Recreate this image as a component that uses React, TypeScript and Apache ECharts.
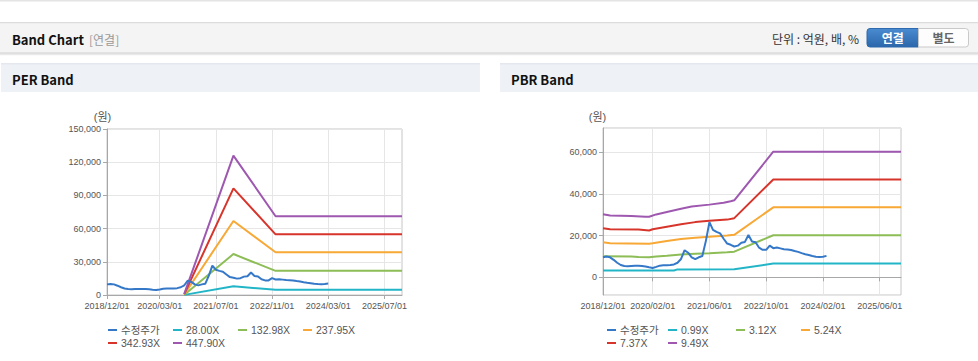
import React, { useEffect, useRef } from "react";
import * as echarts from "echarts";

const MONTHS = [
  "2018/12/01",
  "2019/01/01", "2019/02/01", "2019/03/01", "2019/04/01", "2019/05/01", "2019/06/01",
  "2019/07/01", "2019/08/01", "2019/09/01", "2019/10/01", "2019/11/01", "2019/12/01",
  "2020/01/01", "2020/02/01", "2020/03/01", "2020/04/01", "2020/05/01", "2020/06/01",
  "2020/07/01", "2020/08/01", "2020/09/01", "2020/10/01", "2020/11/01", "2020/12/01",
  "2021/01/01", "2021/02/01", "2021/03/01", "2021/04/01", "2021/05/01", "2021/06/01",
  "2021/07/01", "2021/08/01", "2021/09/01", "2021/10/01", "2021/11/01", "2021/12/01",
  "2022/01/01", "2022/02/01", "2022/03/01", "2022/04/01", "2022/05/01", "2022/06/01",
  "2022/07/01", "2022/08/01", "2022/09/01", "2022/10/01", "2022/11/01", "2022/12/01",
  "2023/01/01", "2023/02/01", "2023/03/01", "2023/04/01", "2023/05/01", "2023/06/01",
  "2023/07/01", "2023/08/01", "2023/09/01", "2023/10/01", "2023/11/01", "2023/12/01",
  "2024/01/01", "2024/02/01", "2024/03/01", "2024/04/01", "2024/05/01", "2024/06/01",
  "2024/07/01", "2024/08/01", "2024/09/01", "2024/10/01", "2024/11/01", "2024/12/01",
  "2025/01/01", "2025/02/01", "2025/03/01", "2025/04/01", "2025/05/01", "2025/06/01",
  "2025/07/01", "2025/08/01", "2025/09/01", "2025/10/01", "2025/11/01", "2025/12/01",
];

const PER_TICKS = ["2018/12/01", "2020/03/01", "2021/07/01", "2022/11/01", "2024/03/01", "2025/07/01"];
const PBR_TICKS = ["2018/12/01", "2020/02/01", "2021/06/01", "2022/10/01", "2024/02/01", "2025/06/01"];

// 수정주가 (monthly, 2018/12 .. 2024/03)
const PRICE = [
  9600, 10000, 9600, 8400, 7000, 5900, 5400, 5300, 5400, 5500, 5500, 5400, 5200, 4800, 4500, 5000,
  5600, 5800, 5800, 5900, 6200, 7000, 8800, 13000, 11800, 9600, 8700, 9600, 10200, 17500, 26500, 22800,
  21800, 21100, 18500, 16200, 15600, 14800, 15200, 16600, 17000, 20300, 17200, 16800, 14200, 13200, 13200, 15200,
  14000, 14300, 13900, 13500, 13400, 13100, 12600, 12200, 11600, 11100, 10700, 10200, 9900, 9800, 9900, 10300,
];

const PER_NAMES = ["28.00X", "132.98X", "237.95X", "342.93X", "447.90X"];
const PER_28 = [["2020/10/01", 100], ["2021/12/01", 7900], ["2022/12/01", 4700], ["2025/12/01", 4700]];
const PER_133 = [["2020/10/01", 300], ["2021/12/01", 37000], ["2022/12/01", 21800], ["2025/12/01", 21800]];
const PER_238 = [["2020/10/01", 500], ["2021/12/01", 66900], ["2022/12/01", 38600], ["2025/12/01", 38600]];
const PER_343 = [["2020/10/01", 800], ["2021/12/01", 96400], ["2022/12/01", 54800], ["2025/12/01", 54800]];
const PER_448 = [["2020/10/01", 1000], ["2021/12/01", 125900], ["2022/12/01", 71200], ["2025/12/01", 71200]];

const PBR_NAMES = ["0.99X", "3.12X", "5.24X", "7.37X", "9.49X"];
const PBR_099 = [["2018/12/01", 3300], ["2020/08/01", 3300], ["2020/09/01", 3800], ["2022/01/01", 3900], ["2022/12/01", 6600], ["2025/12/01", 6600]];
const PBR_312 = [
  ["2018/12/01", 10100], ["2019/08/01", 10000], ["2019/10/01", 9700], ["2020/01/01", 9600], ["2020/03/01", 10000],
  ["2020/06/01", 10300], ["2020/10/01", 10900], ["2021/02/01", 11300], ["2021/06/01", 11600], ["2021/11/01", 12000],
  ["2022/01/01", 12300], ["2022/12/01", 20200], ["2025/12/01", 20200],
];
const PBR_524 = [
  ["2018/12/01", 16800], ["2019/02/01", 16400], ["2020/01/01", 16100], ["2020/02/01", 16300], ["2020/06/01", 17400],
  ["2020/10/01", 18400], ["2021/02/01", 19000], ["2021/06/01", 19500], ["2021/11/01", 20100], ["2022/01/01", 20400],
  ["2022/12/01", 33600], ["2025/12/01", 33600],
];
const PBR_737 = [
  ["2018/12/01", 23600], ["2019/02/01", 23100], ["2019/10/01", 22900], ["2020/01/01", 22500], ["2020/02/01", 23100],
  ["2020/06/01", 24300], ["2020/10/01", 25500], ["2021/02/01", 26500], ["2021/06/01", 27100], ["2021/11/01", 27700],
  ["2022/01/01", 28400], ["2022/12/01", 47000], ["2025/12/01", 47000],
];
const PBR_949 = [
  ["2018/12/01", 30300], ["2019/02/01", 29700], ["2019/08/01", 29400], ["2019/12/01", 29100], ["2020/01/01", 29100],
  ["2020/03/01", 30200], ["2020/06/01", 31400], ["2020/10/01", 32900], ["2021/01/01", 34000], ["2021/06/01", 34900],
  ["2021/10/01", 35800], ["2021/12/01", 36500], ["2022/01/01", 37000], ["2022/12/01", 60300], ["2025/12/01", 60300],
];

const PRICE_NAME = "수정주가";
const PRICE_COLOR = "#3578c8";
const BAND_COLORS = ["#22b5c7", "#8dbd56", "#f7a835", "#d7352b", "#9e58b0"];

const FONT = "'Liberation Sans', 'Noto Sans CJK KR', sans-serif";
const KFONT = "'Noto Sans CJK KR', 'Liberation Sans', sans-serif";

function fmt(v: number) {
  return Math.round(v).toLocaleString("en-US");
}

function xAxisFor(gridIndex: number, ticks: string[]) {
  const pick = (_i: number, v: string) => ticks.indexOf(v) >= 0;
  return {
    type: "category",
    gridIndex,
    data: MONTHS,
    boundaryGap: false,
    axisLine: { lineStyle: { color: "#a8a8a8", width: 1 } },
    axisTick: { show: true, interval: pick, length: 4, lineStyle: { color: "#a8a8a8" } },
    axisLabel: { interval: pick, margin: 6, fontSize: 9, color: "#555", fontFamily: FONT },
    splitLine: { show: true, interval: pick, lineStyle: { color: "#e6e6e6", width: 1 } },
  };
}

function lineSeries(name: string, data: any, color: string, xi: number, z: number) {
  return {
    type: "line",
    name,
    data,
    xAxisIndex: xi,
    yAxisIndex: xi,
    showSymbol: false,
    symbol: "none",
    z,
    lineStyle: { color, width: 2 },
    itemStyle: { color },
  };
}

function legendCol(left: number, names: string[]) {
  return {
    orient: "vertical",
    left,
    top: 324,
    padding: 0,
    itemGap: 1,
    itemWidth: 9,
    itemHeight: 2,
    itemStyle: { borderWidth: 0 },
    icon: "rect",
    data: names,
    textStyle: { fontSize: 10.5, color: "#555", fontFamily: FONT, lineHeight: 12, padding: [0, 0, 0, -1] },
  };
}

export default function App() {
  const ref = useRef<HTMLDivElement>(null);

  useEffect(() => {
    document.body.style.margin = "0";
    const chart = echarts.init(ref.current!, null, { renderer: "svg" });

    const btnGrad = new echarts.graphic.LinearGradient(0, 0, 0, 1, [
      { offset: 0, color: "#4a8bd1" },
      { offset: 1, color: "#2b66aa" },
    ]);

    const graphic: any[] = [
      { type: "rect", shape: { x: 0, y: 0, width: 978, height: 1.5 }, style: { fill: "#e4e4e4" }, silent: true },
      { type: "rect", shape: { x: 0, y: 22, width: 978, height: 31 }, style: { fill: "#f4f4f4" }, silent: true },
      { type: "rect", shape: { x: 0, y: 22, width: 978, height: 1.2 }, style: { fill: "#dcdcdc" }, silent: true },
      { type: "rect", shape: { x: 0, y: 52.5, width: 978, height: 1.2 }, style: { fill: "#cfcfcf" }, silent: true },
      { type: "rect", shape: { x: 0, y: 53.7, width: 978, height: 1.5 }, style: { fill: "#e9e9e9" }, silent: true },
      {
        type: "text", x: 12, y: 39,
        style: { text: "Band Chart", fill: "#111", font: `bold 13px ${KFONT}`, textVerticalAlign: "middle" },
      },
      {
        type: "text", x: 89, y: 39,
        style: { text: "[연결]", fill: "#999", font: `12px ${KFONT}`, textVerticalAlign: "middle" },
      },
      {
        type: "text", x: 859, y: 38.5,
        style: { text: "단위 : 억원, 배, %", fill: "#333", font: `12px ${KFONT}`, textAlign: "right", textVerticalAlign: "middle" },
      },
      {
        type: "rect", shape: { x: 867, y: 28.5, width: 51.5, height: 18.5, r: [3, 0, 0, 3] },
        style: { fill: btnGrad, stroke: "#2d69ac", lineWidth: 1 },
      },
      {
        type: "text", x: 892.7, y: 37.8,
        style: { text: "연결", fill: "#fff", font: `bold 12px ${KFONT}`, textAlign: "center", textVerticalAlign: "middle" },
      },
      {
        type: "rect", shape: { x: 918.5, y: 28.5, width: 50, height: 18.5, r: [0, 3, 3, 0] },
        style: { fill: "#fdfdfd", stroke: "#c9c9c9", lineWidth: 1 },
      },
      {
        type: "text", x: 943.5, y: 37.8,
        style: { text: "별도", fill: "#666", font: `bold 12px ${KFONT}`, textAlign: "center", textVerticalAlign: "middle" },
      },
      // panel headers
      { type: "rect", shape: { x: 1, y: 63, width: 479, height: 29 }, style: { fill: "#eef1f6" }, silent: true },
      { type: "rect", shape: { x: 1, y: 63, width: 479, height: 1.5 }, style: { fill: "#e4e8ee" }, silent: true },
      {
        type: "text", x: 12, y: 79,
        style: { text: "PER Band", fill: "#111", font: `bold 13px ${KFONT}`, textVerticalAlign: "middle" },
      },
      { type: "rect", shape: { x: 500, y: 63, width: 478, height: 29 }, style: { fill: "#eef1f6" }, silent: true },
      { type: "rect", shape: { x: 500, y: 63, width: 478, height: 1.5 }, style: { fill: "#e4e8ee" }, silent: true },
      {
        type: "text", x: 511, y: 79,
        style: { text: "PBR Band", fill: "#111", font: `bold 13px ${KFONT}`, textVerticalAlign: "middle" },
      },
      {
        type: "text", x: 102.5, y: 117,
        style: { text: "(원)", fill: "#555", font: `11px ${FONT}`, textAlign: "center", textVerticalAlign: "middle" },
      },
      {
        type: "text", x: 597.5, y: 117,
        style: { text: "(원)", fill: "#555", font: `11px ${FONT}`, textAlign: "center", textVerticalAlign: "middle" },
      },
    ];

    const perBands = [PER_28, PER_133, PER_238, PER_343, PER_448];
    const pbrBands = [PBR_099, PBR_312, PBR_524, PBR_737, PBR_949];

    const series: any[] = [];
    perBands.forEach((d, i) => series.push(lineSeries(PER_NAMES[i], d, BAND_COLORS[i], 0, 2)));
    series.push(lineSeries(PRICE_NAME, PRICE, PRICE_COLOR, 0, 3));
    pbrBands.forEach((d, i) => series.push(lineSeries(PBR_NAMES[i], d, BAND_COLORS[i], 1, 2)));
    series.push(lineSeries(PRICE_NAME, PRICE, PRICE_COLOR, 1, 3));

    const option: any = {
      animation: false,
      backgroundColor: "#fff",
      textStyle: { fontFamily: FONT },
      grid: [
        { left: 107, top: 129, width: 295, height: 166, show: true, borderColor: "#c6c6c6", borderWidth: 1, containLabel: false },
        { left: 603, top: 128, width: 298, height: 167, show: true, borderColor: "#c6c6c6", borderWidth: 1, containLabel: false },
      ],
      xAxis: [xAxisFor(0, PER_TICKS), xAxisFor(1, PBR_TICKS)],
      yAxis: [
        {
          type: "value",
          gridIndex: 0,
          min: 0,
          max: 150000,
          interval: 30000,
          axisLine: { show: true, lineStyle: { color: "#a8a8a8" } },
          axisTick: { show: true, length: 4, lineStyle: { color: "#a8a8a8" } },
          axisLabel: { margin: 6, fontSize: 9, color: "#555", fontFamily: FONT, formatter: fmt },
          splitLine: { show: true, lineStyle: { color: "#e6e6e6" } },
        },
        {
          type: "value",
          gridIndex: 1,
          min: -8500,
          max: 71700,
          splitNumber: 4,
          axisLine: { show: true, lineStyle: { color: "#a8a8a8" } },
          axisTick: { show: true, length: 4, lineStyle: { color: "#a8a8a8" } },
          axisLabel: {
            margin: 6, fontSize: 9, color: "#555", fontFamily: FONT, formatter: fmt,
            showMinLabel: false, showMaxLabel: false,
          },
          splitLine: { show: true, lineStyle: { color: "#e6e6e6" } },
        },
      ],
      legend: [
        legendCol(108, [PRICE_NAME, PER_NAMES[3]]),
        legendCol(173, [PER_NAMES[0], PER_NAMES[4]]),
        legendCol(238, [PER_NAMES[1]]),
        legendCol(303, [PER_NAMES[2]]),
        legendCol(607, [PRICE_NAME, PBR_NAMES[3]]),
        legendCol(668, [PBR_NAMES[0], PBR_NAMES[4]]),
        legendCol(736, [PBR_NAMES[1]]),
        legendCol(801, [PBR_NAMES[2]]),
      ],
      graphic,
      series,
    };

    chart.setOption(option);
    return () => chart.dispose();
  }, []);

  return <div ref={ref} style={{ width: 978, height: 361 }} />;
}
